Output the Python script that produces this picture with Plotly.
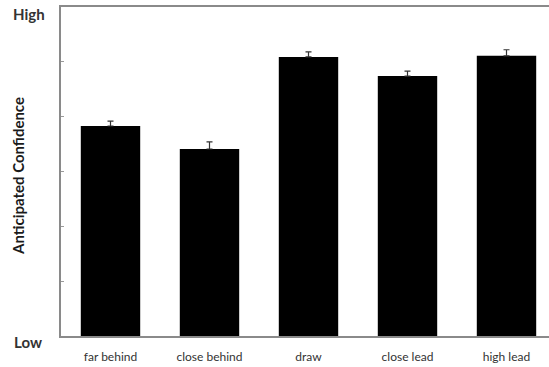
import plotly.graph_objects as go

categories = ["far behind", "close behind", "draw", "close lead", "high lead"]
confidence = [3.83, 3.41, 5.09, 4.74, 5.11]
errors = [0.09, 0.13, 0.09, 0.09, 0.11]
y_ticks = [0, 1, 2, 3, 4, 5, 6]

W, H = 553, 367
L, R, T, B = 61, 0, 7, 31
pw, ph = W - L - R, H - T - B

fig = go.Figure()
fig.add_trace(go.Bar(
    x=list(range(len(categories))), y=confidence,
    marker=dict(color="black", line=dict(width=0)),
    width=0.6,
    error_y=dict(type="data", array=errors, arrayminus=[0]*len(errors), symmetric=False,
                 color="#333333", thickness=1.2, width=3),
))

font = "Lato, 'Open Sans', sans-serif"
def ann(text, px, py, size, color, angle=0):
    return dict(text=text, x=(px - L) / pw, y=(336 - py) / ph, xref="paper", yref="paper",
                xanchor="center", yanchor="middle", textangle=angle,
                showarrow=False, font=dict(family=font, size=size, color=color))

fig.update_layout(
    width=W, height=H,
    margin=dict(l=L, r=R, t=T, b=B),
    plot_bgcolor="white", paper_bgcolor="white",
    showlegend=False,
    xaxis=dict(range=[-0.5, -0.5 + pw / 99.0], tickvals=list(range(len(categories))),
               ticktext=categories, showline=True, linecolor="#8a8a8a", linewidth=2,
               mirror=True, ticks="", showgrid=False, zeroline=False,
               ticklabelstandoff=9,
               tickfont=dict(family=font, size=12, color="#333333")),
    yaxis=dict(range=[0, 6], tickvals=y_ticks, showticklabels=False,
               ticks="inside", ticklen=3, tickcolor="#9a9a9a",
               showline=True, linecolor="#8a8a8a", linewidth=2,
               showgrid=False, zeroline=False),
    annotations=[
        ann("<b>High</b>", 29, 14, 15, "#333333"),
        ann("<b>Low</b>", 28, 342, 15, "#333333"),
        ann("<b>Anticipated Confidence</b>", 18, 176, 15, "#1a1a1a", angle=-90),
    ],
)
fig.write_html("out.html", post_script="document.body.style.margin='0';document.body.style.overflow='hidden';",
               config={"displayModeBar": False})
